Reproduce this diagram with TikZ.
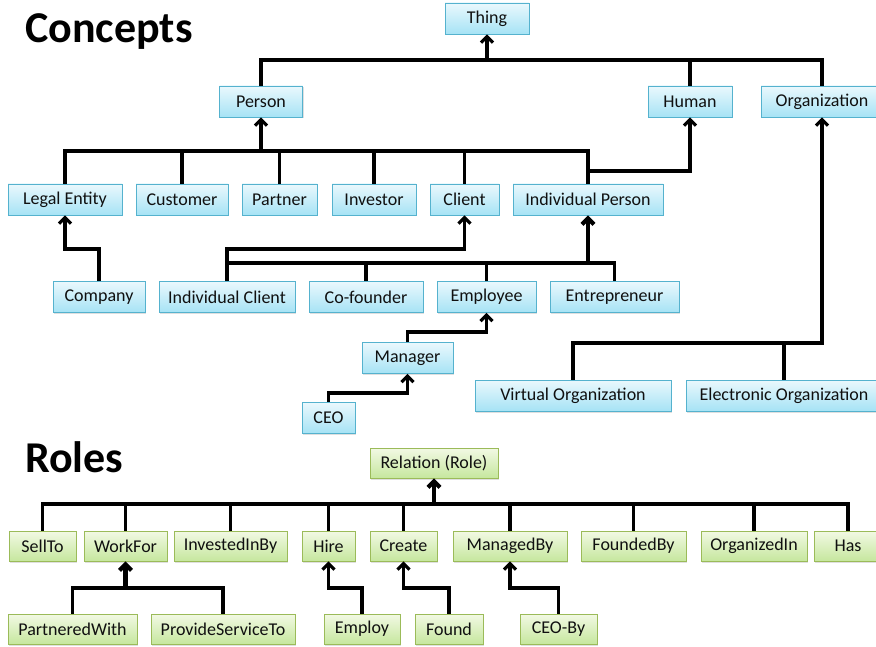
\documentclass[tikz,border=0pt]{standalone}
\usepackage{fontspec}
\setmainfont{Carlito}
\usetikzlibrary{arrows.meta,shadows}
\definecolor{bfill1}{HTML}{EAF8FD}
\definecolor{bfill2}{HTML}{A6E3F5}
\definecolor{bdraw}{HTML}{55B2CE}
\definecolor{gfill1}{HTML}{F2F9E4}
\definecolor{gfill2}{HTML}{C6E79E}
\definecolor{gdraw}{HTML}{9BBB59}
\definecolor{txt}{HTML}{101010}
\tikzset{
  basebox/.style={rectangle, inner sep=0pt, minimum height=31pt, line width=0.9pt,
    text=txt, font=\fontsize{18}{20}\selectfont,
    drop shadow={shadow xshift=1.2pt, shadow yshift=-1.5pt, opacity=0.25}},
  cbox/.style={basebox, draw=bdraw, top color=bfill1, bottom color=bfill2},
  rbox/.style={basebox, draw=gdraw, top color=gfill1, bottom color=gfill2},
  conn/.style={line width=3.2pt, line join=miter, black},
  arr/.style={conn, -{Straight Barb[length=6pt,width=12pt]}},
  thickarr/.style={arr, line width=4.2pt},
  title/.style={anchor=base west, inner sep=0pt, font=\fontsize{44}{50}\selectfont\bfseries, text=black}
}
\begin{document}
\begin{tikzpicture}[x=1pt,y=-1pt]
\useasboundingbox (0,0) rectangle (876,647);
\fill[white] (0,0) rectangle (876,647);

\node[title] (tconcepts) at (25,43) {Concepts};
\node[title] (troles) at (25,472) {Roles};

% ---------- Concepts ----------
\node[cbox, minimum width=84pt] (thing) at (487,18.5) {Thing};
\node[cbox, minimum width=83pt] (person) at (261,101.5) {Person};
\node[cbox, minimum width=84pt] (human) at (690,101.5) {Human};
\node[cbox, minimum width=122pt] (org) at (822,101.5) {Organization};

\node[cbox, minimum width=114pt] (le) at (65,199.5) {Legal Entity};
\node[cbox, minimum width=92pt] (customer) at (182,199.5) {Customer};
\node[cbox, minimum width=75pt] (partner) at (279.5,199.5) {Partner};
\node[cbox, minimum width=84pt] (investor) at (374,199.5) {Investor};
\node[cbox, minimum width=69pt] (client) at (464.5,199.5) {Client};
\node[cbox, minimum width=150pt] (ip) at (588,199.5) {Individual Person};

\node[cbox, minimum width=92pt] (company) at (99,297) {Company};
\node[cbox, minimum width=136pt] (ic) at (227,297) {Individual Client};
\node[cbox, minimum width=114pt] (cofounder) at (366,297) {Co-founder};
\node[cbox, minimum width=99pt] (employee) at (486.5,297) {Employee};
\node[cbox, minimum width=129pt] (ent) at (614.5,297) {Entrepreneur};

\node[cbox, minimum width=91pt] (manager) at (407.5,358) {Manager};
\node[cbox, minimum width=53pt] (ceo) at (328.5,418) {CEO};

\node[cbox, minimum width=196pt] (vo) at (573,395.5) {Virtual Organization};
\node[cbox, minimum width=196pt] (eo) at (784,395.5) {Electronic Organization};

\coordinate (b1) at (0,60);
\coordinate (b2) at (0,151);
\coordinate (b3) at (0,171);
\coordinate (b4) at (0,249);
\coordinate (b5) at (0,263);
\coordinate (b6) at (0,332);
\coordinate (b7) at (0,393);
\coordinate (b8) at (0,343);

\draw[conn] (person.north) -- (person.north |- b1) -- (org.north |- b1) -- (org.north);
\draw[conn] (human.north) -- (human.north |- b1);
\draw[arr] (thing.south |- b1) -- (thing.south);

\draw[conn] (le.north) -- (le.north |- b2) -- (ip.north |- b2) -- (ip.north);
\foreach \n in {customer,partner,investor,client}
  \draw[conn] (\n.north) -- (\n.north |- b2);
\draw[arr] (person.south |- b2) -- (person.south);

\draw[arr] (ip.north |- b3) -- (human.south |- b3) -- (human.south);

\draw[arr] (company.north) -- (company.north |- b4) -- (le.south |- b4) -- (le.south);
\draw[arr] (ic.north) -- (ic.north |- b4) -- (client.south |- b4) -- (client.south);

\draw[conn] (ic.north |- b5) -- (ent.north |- b5) -- (ent.north);
\foreach \n in {cofounder,employee}
  \draw[conn] (\n.north) -- (\n.north |- b5);
\draw[thickarr] (ip.south |- b5) -- (ip.south);

\draw[arr] (manager.north) -- (manager.north |- b6) -- (employee.south |- b6) -- (employee.south);
\draw[arr] (ceo.north) -- (ceo.north |- b7) -- (manager.south |- b7) -- (manager.south);

\draw[arr] (vo.north) -- (vo.north |- b8) -- (org.south |- b8) -- (org.south);
\draw[conn] (eo.north) -- (eo.north |- b8);

% ---------- Roles ----------
\node[rbox, minimum width=128pt, minimum height=30pt] (rel) at (434,463) {Relation (Role)};

\node[rbox, minimum width=67pt, minimum height=30pt] (sellto) at (42.5,546) {SellTo};
\node[rbox, minimum width=83pt, minimum height=30pt] (workfor) at (125.5,546) {WorkFor};
\node[rbox, minimum width=113pt, minimum height=30pt] (invested) at (230.5,546) {InvestedInBy};
\node[rbox, minimum width=53pt, minimum height=30pt] (hire) at (328.5,546) {Hire};
\node[rbox, minimum width=67pt, minimum height=30pt] (create) at (403.5,546) {Create};
\node[rbox, minimum width=114pt, minimum height=30pt] (managed) at (510,546) {ManagedBy};
\node[rbox, minimum width=105pt, minimum height=30pt] (founded) at (633.5,546) {FoundedBy};
\node[rbox, minimum width=106pt, minimum height=30pt] (organized) at (754,546) {OrganizedIn};
\node[rbox, minimum width=68pt, minimum height=30pt] (has) at (848,546) {Has};

\node[rbox, minimum width=129pt, minimum height=30pt] (pw) at (72.5,629) {PartneredWith};
\node[rbox, minimum width=144pt, minimum height=30pt] (pst) at (223,629) {ProvideServiceTo};
\node[rbox, minimum width=76pt, minimum height=30pt] (employ) at (362,629) {Employ};
\node[rbox, minimum width=68pt, minimum height=30pt] (found) at (449,629) {Found};
\node[rbox, minimum width=77pt, minimum height=30pt] (ceoby) at (558.5,629) {CEO-By};

\coordinate (r1) at (0,504);
\coordinate (r2) at (0,588);

\draw[conn] (sellto.north) -- (sellto.north |- r1) -- (has.north |- r1) -- (has.north);
\foreach \n in {workfor,invested,hire,create,managed,founded,organized}
  \draw[conn] (\n.north) -- (\n.north |- r1);
\draw[thickarr] (rel.south |- r1) -- (rel.south);

\draw[conn] (pw.north) -- (pw.north |- r2) -- (pst.north |- r2) -- (pst.north);
\draw[thickarr] (workfor.south |- r2) -- (workfor.south);

\draw[arr] (employ.north) -- (employ.north |- r2) -- (hire.south |- r2) -- (hire.south);
\draw[arr] (found.north) -- (found.north |- r2) -- (create.south |- r2) -- (create.south);
\draw[arr] (ceoby.north) -- (ceoby.north |- r2) -- (managed.south |- r2) -- (managed.south);
\end{tikzpicture}
\end{document}
